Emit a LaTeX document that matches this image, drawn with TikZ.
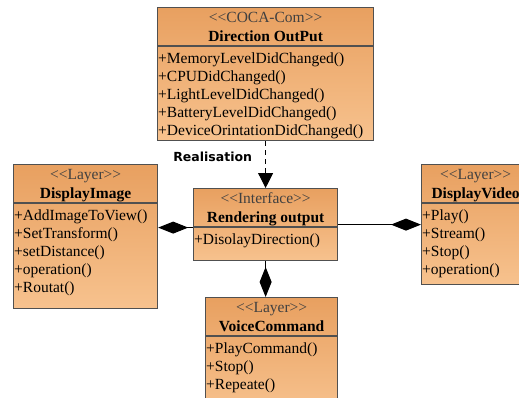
\documentclass[tikz,border=0pt]{standalone}
\usepackage{fontspec}
\newfontfamily\umlfont{Liberation Serif}
\newfontfamily\notefont{DejaVu Sans}
\usetikzlibrary{arrows.meta,positioning}

\definecolor{boxtop}{RGB}{232,160,96}
\definecolor{boxbot}{RGB}{247,194,142}
\definecolor{boxline}{RGB}{80,80,80}

\tikzset{
  classbox/.style={draw=boxline, line width=1.2pt, top color=boxtop, bottom color=boxbot, anchor=north west, inner sep=0pt},
  stereo/.style={font=\umlfont\fontsize{15.5}{18}\selectfont, text=black!75, anchor=base, inner sep=0pt},
  classname/.style={font=\umlfont\bfseries\fontsize{15.5}{18}\selectfont, anchor=base, inner sep=0pt},
  op/.style={font=\umlfont\fontsize{15.5}{18}\selectfont, anchor=base west, inner sep=0pt},
  has/.style={draw=black, line width=1pt, -{Diamond[length=30pt,width=12pt]}},
  real/.style={draw=black, line width=1pt, dash pattern=on 5pt off 4pt, -{Triangle[length=15pt,width=15pt]}},
  realtext/.style={font=\notefont\bfseries\fontsize{12.5}{15}\selectfont, inner sep=0pt}
}

% name, x, y, width, height, stereotype, class name, operations
\newcommand{\umlclass}[8]{%
  \node[classbox, minimum width=#4pt, minimum height=#5pt] (#1) at (#2,#3) {};
  \node[stereo] (#1-st) at ([yshift=-15.5pt]#1.north) {#6};
  \node[classname] (#1-nm) at ([yshift=-34.5pt]#1.north) {#7};
  \draw[draw=boxline, line width=1.2pt] ([yshift=-39pt]#1.north west) -- ([yshift=-39pt]#1.north east);
  \foreach \m [count=\i] in {#8}
    \node[op] (#1-\i) at ([xshift=1pt, yshift={-56.5pt-(\i-1)*18pt}]#1.north west) {+\m};
}

\begin{document}
\begin{tikzpicture}[x=1pt, y=-1pt]
  \path[use as bounding box] (0,0) rectangle (519,397);
  \clip (0,0) rectangle (519,397);

  % classes
  \umlclass{out}{157}{7}{216}{133}{<<COCA-Com>>}{Direction OutPut}%
    {MemoryLevelDidChanged(),CPUDidChanged(),LightLevelDidChanged(),BatteryLevelDidChanged(),DeviceOrintationDidChanged()}
  \umlclass{render}{193}{188}{144}{72}{<<Interface>>}{Rendering output}{DisolayDirection()}
  \umlclass{img}{13}{164}{144}{144}{<<Layer>>}{DisplayImage}%
    {AddImageToView(),SetTransform(),setDistance(),operation(),Routat()}
  \umlclass{vid}{421}{164}{108}{120}{<<Layer>>}{DisplayVideo}{Play(),Stream(),Stop(),operation()}
  \umlclass{voice}{205}{297}{132}{115}{<<Layer>>}{VoiceCommand}{PlayCommand(),Stop(),Repeate()}

  % connectors
  \draw[real] (out.south) -- node[realtext, pos=0.34, left=13pt] (real-txt) {Realisation} (out.south |- render.north);
  \draw[has] ([yshift=-3pt]render.west) -- ([yshift=-3pt]render.west -| img.east);
  \draw[has] (render.east) -- (render.east -| vid.west);
  \draw[has] (render.south) -- (render.south |- voice.north);
\end{tikzpicture}
\end{document}
